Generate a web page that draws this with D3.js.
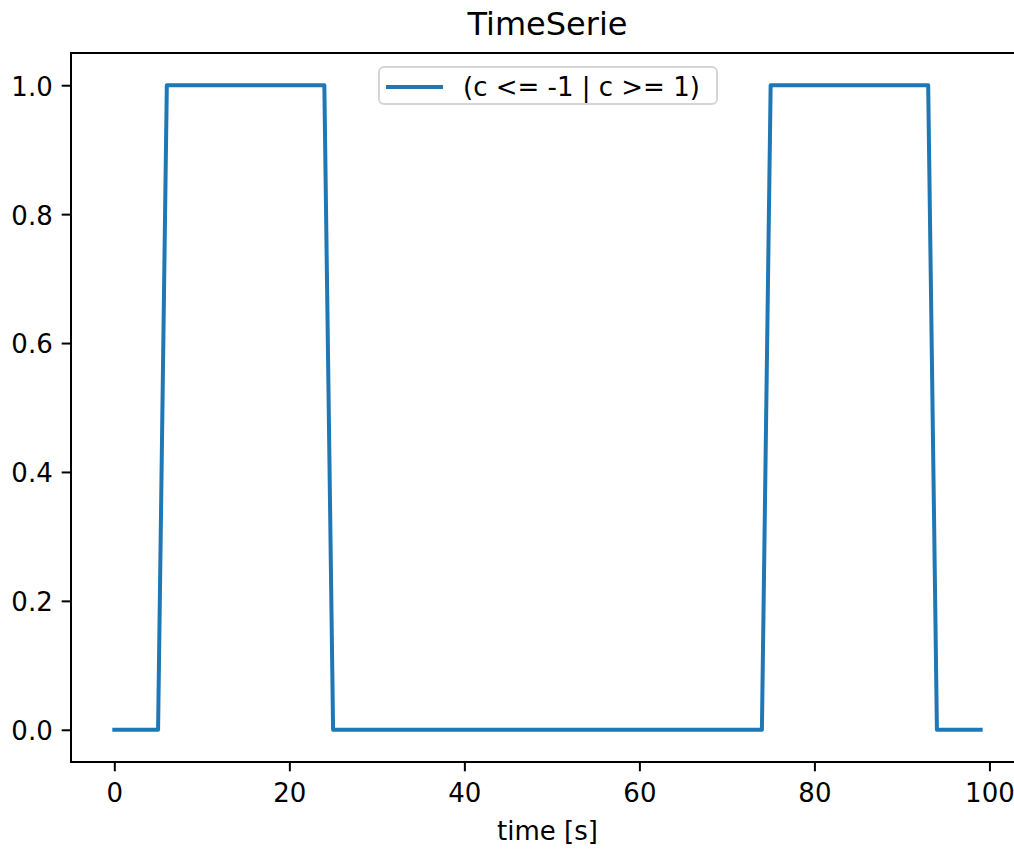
<!DOCTYPE html>
<html>
<head>
<meta charset="utf-8">
<script src="https://cdn.jsdelivr.net/npm/d3@7"></script>
<style>
  body { margin: 0; background: #fff; overflow: hidden; }
  text { font-family: "DejaVu Sans", sans-serif; fill: #000; }
</style>
</head>
<body>
<div id="chart"></div>
<script>
// data: one sample per second, 0..99
var times = d3.range(0, 100);
// value 1 while (c <= -1 | c >= 1), else 0
var onIntervals = [[6, 24], [75, 93]];
var values = times.map(function (t) {
    return onIntervals.some(function (r) { return t >= r[0] && t <= r[1]; }) ? 1 : 0;
});
var xTicks = [0, 20, 40, 60, 80, 100];
var yTicks = [0.0, 0.2, 0.4, 0.6, 0.8, 1.0];
var seriesName = "(c <= -1 | c >= 1)";

var width = 1014;
var height = 849;

// axes box (right spine falls just outside the picture)
var axLeft = 71, axRight = 1024, axTop = 53, axBottom = 762;

var x = d3.scaleLinear()
    .domain([-4.95, 103.95])
    .range([axLeft, axRight]);

var y = d3.scaleLinear()
    .domain([-0.05, 1.05])
    .range([axBottom, axTop]);

var svg = d3.select("#chart")
    .append("svg")
    .attr("width", width)
    .attr("height", height);

// line
var line = d3.line()
    .x(function (d, i) { return x(times[i]); })
    .y(function (d) { return y(d); });

svg.append("path")
    .datum(values)
    .attr("d", line)
    .attr("fill", "none")
    .attr("stroke", "#1f77b4")
    .attr("stroke-width", 4)
    .attr("stroke-linejoin", "round")
    .attr("stroke-linecap", "square");

// axes
var xAxis = d3.axisBottom(x)
    .tickValues(xTicks)
    .tickSize(9.3)
    .tickPadding(9)
    .tickFormat(d3.format("d"));

var yAxis = d3.axisLeft(y)
    .tickValues(yTicks)
    .tickSize(9.3)
    .tickPadding(9)
    .tickFormat(d3.format(".1f"));

var gx = svg.append("g")
    .attr("transform", "translate(0," + axBottom + ")")
    .call(xAxis);
var gy = svg.append("g")
    .attr("transform", "translate(" + axLeft + ",0)")
    .call(yAxis);

[gx, gy].forEach(function (g) {
    g.select(".domain").remove();
    g.selectAll(".tick line").attr("stroke", "#000").attr("stroke-width", 2);
    g.selectAll(".tick text").style("font-size", "26px").attr("fill", "#000");
});
gx.selectAll(".tick text").attr("dy", "0.85em");
gy.selectAll(".tick text").attr("dy", "0.38em");

// spines
svg.append("rect")
    .attr("x", axLeft)
    .attr("y", axTop)
    .attr("width", axRight - axLeft)
    .attr("height", axBottom - axTop)
    .attr("fill", "none")
    .attr("stroke", "#000")
    .attr("stroke-width", 2);

// title
svg.append("text")
    .attr("x", (axLeft + axRight) / 2)
    .attr("y", 35)
    .attr("text-anchor", "middle")
    .style("font-size", "32px")
    .text("TimeSerie");

// x label
svg.append("text")
    .attr("x", (axLeft + axRight) / 2)
    .attr("y", 840)
    .attr("text-anchor", "middle")
    .style("font-size", "26px")
    .text("time [s]");

// legend
var legend = svg.append("g");
legend.append("rect")
    .attr("x", 379)
    .attr("y", 67)
    .attr("width", 338)
    .attr("height", 37)
    .attr("rx", 5)
    .attr("fill", "#fff")
    .attr("fill-opacity", 0.8)
    .attr("stroke", "#d5d5d5")
    .attr("stroke-width", 2);
legend.append("line")
    .attr("x1", 386)
    .attr("x2", 443)
    .attr("y1", 87)
    .attr("y2", 87)
    .attr("stroke", "#1f77b4")
    .attr("stroke-width", 4);
legend.append("text")
    .attr("x", 463)
    .attr("y", 96)
    .style("font-size", "26px")
    .text(seriesName);
</script>
</body>
</html>
